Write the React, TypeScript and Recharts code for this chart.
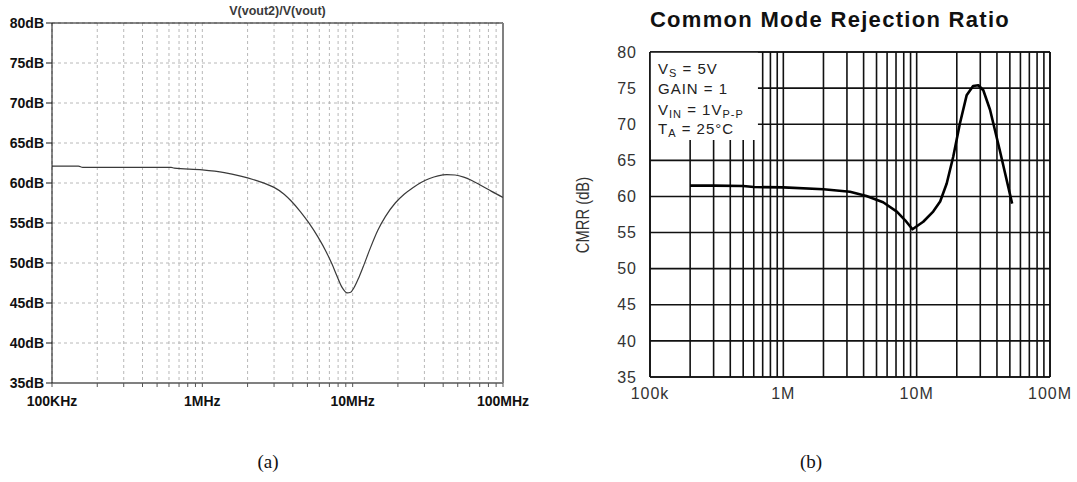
import React from 'react';
import {
  LineChart,
  Line,
  XAxis,
  YAxis,
  CartesianGrid,
  ReferenceLine,
  ReferenceArea,
} from 'recharts';

// (a) simulated V(vout2)/V(vout), dB vs frequency
const simFreq = [
  1e5, 1.5e5, 1.6e5, 3e5, 6.2e5, 6.5e5, 1e6, 1.4e6, 1.8e6, 2.2e6, 2.6e6, 3e6,
  3.5e6, 3.9e6, 4.5e6, 5.1e6, 5.9e6, 6.7e6, 7.3e6, 7.85e6, 8.5e6, 9.2e6,
  9.7e6, 10.2e6, 11e6, 11.9e6, 13e6, 14.7e6, 16.5e6, 19.2e6, 22e6, 25e6,
  28.5e6, 32.5e6, 37e6, 42.3e6, 48e6, 54.8e6, 62e6, 71e6, 84e6, 100e6,
];
const simDb = [
  62.1, 62.1, 61.95, 61.95, 61.95, 61.85, 61.65, 61.3, 60.85, 60.4, 59.95, 59.45,
  58.6, 57.75, 56.4, 55.04, 53.2, 51.32, 49.83, 48.41, 46.96, 46.27,
  46.35, 46.9, 48.2, 49.8, 51.7, 54.1, 55.8, 57.5, 58.6, 59.38,
  60.06, 60.57, 60.9, 61.05, 61.0, 60.74, 60.31, 59.72, 58.95, 58.2,
];

// (b) datasheet CMRR curve
const dsFreq = [
  2e5, 3e5, 5e5, 6e5, 1e6, 2e6, 3.16e6, 4.2e6, 5.6e6, 7.1e6, 8.2e6, 9.3e6,
  11.2e6, 13.3e6, 15e6, 16.8e6, 18.8e6, 21.1e6, 23.7e6, 26.5e6, 29e6, 31.6e6,
  35.5e6, 42e6, 52e6,
];
const dsCmrr = [
  61.5, 61.5, 61.45, 61.3, 61.25, 61.0, 60.65, 60.05, 59.2, 57.9, 56.7, 55.45,
  56.5, 57.9, 59.3, 61.8, 65.5, 70.1, 74.0, 75.3, 75.4, 74.7,
  72.0, 66.4, 59.0,
];

const decades = [1e5, 1e6, 1e7, 1e8];
const simXLabels = ['100KHz', '1MHz', '10MHz', '100MHz'];
const dsXLabels = ['100k', '1M', '10M', '100M'];
const dbTicks = [35, 40, 45, 50, 55, 60, 65, 70, 75, 80];

// grid lines at 1..9 of every decade
const logTicks = decades
  .slice(0, -1)
  .flatMap((d) => [1, 2, 3, 4, 5, 6, 7, 8, 9].map((k) => k * d))
  .concat(decades[decades.length - 1]);

const decadeLabel = (labels: string[]) => (v: number) => {
  const i = decades.findIndex((d) => Math.abs(v - d) < 1);
  return i >= 0 ? labels[i] : '';
};

const simData = simFreq.map((f, i) => ({ f, db: simDb[i] }));
const dsData = dsFreq.map((f, i) => ({ f, cmrr: dsCmrr[i] }));

const sans = "'Liberation Sans', Arial, sans-serif";

const simTick = { fill: '#111', fontSize: 14, fontWeight: 'bold', fontFamily: sans };
const dsTick = { fill: '#333', fontSize: 16, fontFamily: sans, letterSpacing: 1 };

const sub = { fontSize: 11, position: 'relative' as const, top: 3 };

const legendLine = (top: number): React.CSSProperties => ({
  position: 'absolute',
  left: 658,
  top,
  fontFamily: sans,
  fontSize: 15,
  lineHeight: '15px',
  letterSpacing: 1,
  color: '#222',
  whiteSpace: 'nowrap',
});

const App = () => {
  return (
    <div style={{ position: 'absolute', left: 0, top: 0, width: 1077, height: 482, background: '#fff' }}>
      {/* (a) */}
      <div
        style={{
          position: 'absolute', left: 52, top: 5, width: 451, textAlign: 'center',
          fontFamily: sans, fontSize: 12.5, lineHeight: '12px', fontWeight: 'bold', color: '#3a3a3a',
        }}
      >
        V(vout2)/V(vout)
      </div>
      <div style={{ position: 'absolute', left: 0, top: 0 }}>
        <LineChart width={540} height={420} data={simData} margin={{ top: 23, right: 37, bottom: 0, left: 0 }}>
          <CartesianGrid stroke="#b8b8b8" strokeDasharray="3 3" />
          <XAxis
            dataKey="f"
            type="number"
            scale="log"
            domain={[1e5, 1e8]}
            allowDataOverflow
            ticks={logTicks}
            interval={0}
            tickFormatter={decadeLabel(simXLabels)}
            height={37}
            tickSize={4}
            tickMargin={9}
            axisLine={{ stroke: '#808080', strokeWidth: 2 }}
            tickLine={{ stroke: '#555' }}
            tick={simTick}
          />
          <YAxis
            type="number"
            domain={[35, 80]}
            ticks={dbTicks}
            interval={0}
            tickFormatter={(v) => `${v}dB`}
            width={52}
            tickSize={6}
            tickMargin={2}
            axisLine={{ stroke: '#111' }}
            tickLine={{ stroke: '#111' }}
            tick={simTick}
          />
          <ReferenceLine y={80} stroke="#111" />
          <ReferenceLine x={1e8} stroke="#808080" strokeWidth={2} />
          <Line
            dataKey="db"
            type="monotone"
            stroke="#3a3a3a"
            strokeWidth={1.2}
            dot={false}
            isAnimationActive={false}
          />
        </LineChart>
      </div>

      {/* (b) */}
      <div
        style={{
          position: 'absolute', left: 640, top: 9, width: 380, textAlign: 'center',
          fontFamily: sans, fontSize: 22, lineHeight: '22px', fontWeight: 'bold',
          letterSpacing: 1.3, color: '#111', whiteSpace: 'nowrap',
        }}
      >
        Common Mode Rejection Ratio
      </div>
      <div
        style={{
          position: 'absolute', left: 533, top: 205, width: 100, height: 20, lineHeight: '20px',
          textAlign: 'center', transform: 'rotate(-90deg) scaleX(0.82)',
          fontFamily: sans, fontSize: 18, color: '#333', whiteSpace: 'nowrap',
        }}
      >
        CMRR (dB)
      </div>
      <div style={{ position: 'absolute', left: 540, top: 0 }}>
        <LineChart width={537} height={420} data={dsData} margin={{ top: 52, right: 27, bottom: 0, left: 0 }}>
          <CartesianGrid stroke="#111" strokeWidth={1.6} />
          <ReferenceArea x1={1e5} x2={6.45e5} y1={67.8} y2={80} fill="#fff" fillOpacity={1} stroke="none" />
          <XAxis
            dataKey="f"
            type="number"
            scale="log"
            domain={[1e5, 1e8]}
            allowDataOverflow
            ticks={logTicks}
            interval={0}
            tickFormatter={decadeLabel(dsXLabels)}
            height={43}
            tickSize={0}
            tickMargin={11}
            axisLine={{ stroke: '#111', strokeWidth: 1.6 }}
            tickLine={false}
            tick={dsTick}
          />
          <YAxis
            type="number"
            domain={[35, 80]}
            ticks={dbTicks}
            interval={0}
            width={110}
            tickSize={0}
            tickMargin={13}
            axisLine={{ stroke: '#111', strokeWidth: 1.6 }}
            tickLine={false}
            tick={dsTick}
          />
          <ReferenceLine y={80} stroke="#111" strokeWidth={1.6} />
          <ReferenceLine x={1e8} stroke="#111" strokeWidth={1.6} />
          <Line
            dataKey="cmrr"
            type="linear"
            stroke="#000"
            strokeWidth={2.6}
            strokeLinejoin="round"
            dot={false}
            isAnimationActive={false}
          />
        </LineChart>
      </div>
      <div style={legendLine(61)}>
        V<span style={sub}>S</span> = 5V
      </div>
      <div style={legendLine(81)}>GAIN = 1</div>
      <div style={legendLine(102)}>
        V<span style={sub}>IN</span> = 1V<span style={sub}>P-P</span>
      </div>
      <div style={legendLine(121)}>
        T<span style={sub}>A</span> = 25°C
      </div>

      {/* captions */}
      <div
        style={{
          position: 'absolute', left: 218, top: 452, width: 100, textAlign: 'center',
          fontFamily: "'Liberation Serif', 'DejaVu Serif', serif", fontSize: 19, lineHeight: '19px', color: '#111',
        }}
      >
        (a)
      </div>
      <div
        style={{
          position: 'absolute', left: 761, top: 452, width: 100, textAlign: 'center',
          fontFamily: "'Liberation Serif', 'DejaVu Serif', serif", fontSize: 19, lineHeight: '19px', color: '#111',
        }}
      >
        (b)
      </div>
    </div>
  );
};

export default App;
